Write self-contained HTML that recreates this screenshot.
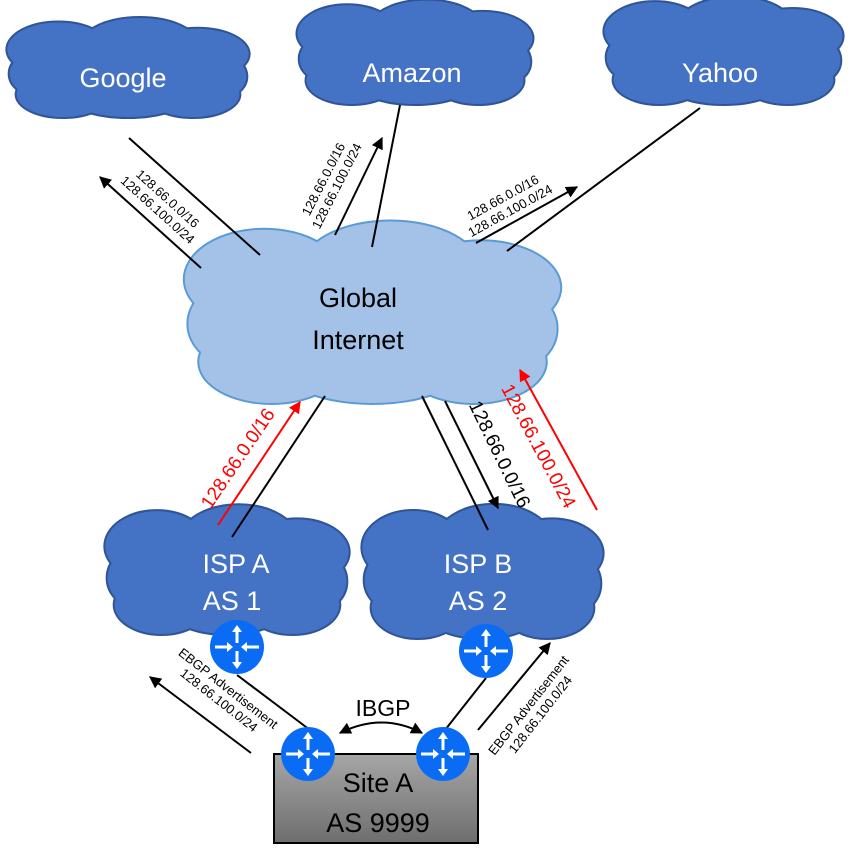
<!DOCTYPE html>
<html><head><meta charset="utf-8"><style>
html,body{margin:0;padding:0;background:#fff}
svg{display:block}
text{font-family:"Liberation Sans",sans-serif}
</style></head><body>
<svg id="s" width="867" height="852" viewBox="0 0 867 852" xmlns="http://www.w3.org/2000/svg">
<defs>
<marker id="ak" viewBox="0 0 10 10" refX="9" refY="5" markerWidth="6" markerHeight="6" orient="auto-start-reverse"><path d="M0,0L10,5L0,10z" fill="#000"/></marker>
<marker id="ar" viewBox="0 0 10 10" refX="9" refY="5" markerWidth="6" markerHeight="6" orient="auto"><path d="M0,0L10,5L0,10z" fill="#f00"/></marker>
<linearGradient id="gb" x1="0" y1="0" x2="0" y2="1"><stop offset="0" stop-color="#a6a6a6"/><stop offset="1" stop-color="#6e6e6e"/></linearGradient>
<g id="rt"><circle r="27" fill="#0a6cf5"/>
<g stroke="#fff" stroke-width="3" fill="#fff">
<line x1="0" y1="-4" x2="0" y2="-17"/><path d="M-5,-15L0,-22L5,-15z" stroke="none"/>
<line x1="0" y1="4" x2="0" y2="17"/><path d="M-5,15L0,22L5,15z" stroke="none"/>
<line x1="-22" y1="0" x2="-10" y2="0"/><path d="M-10,-5L-4,0L-10,5z" stroke="none"/>
<line x1="22" y1="0" x2="10" y2="0"/><path d="M10,-5L4,0L10,5z" stroke="none"/>
</g></g>
</defs>
<g id="clouds"></g>
<g stroke="#000" stroke-width="2" fill="none">
<line x1="129" y1="138" x2="260" y2="255"/>
<line x1="201" y1="268" x2="100" y2="177" marker-end="url(#ak)"/>
<line x1="400" y1="105" x2="372" y2="247"/>
<line x1="335" y1="235" x2="382" y2="138" marker-end="url(#ak)"/>
<line x1="700" y1="108" x2="507" y2="251"/>
<line x1="476" y1="243" x2="577" y2="187" marker-end="url(#ak)"/>
<line x1="232" y1="537" x2="325" y2="396"/>
<line x1="422" y1="396" x2="488" y2="530"/>
<line x1="445" y1="401" x2="498" y2="508" marker-end="url(#ak)"/>
<line x1="237" y1="675" x2="310" y2="730"/>
<line x1="251" y1="753" x2="150" y2="677" marker-end="url(#ak)"/>
<line x1="486" y1="678" x2="445" y2="730"/>
<line x1="478" y1="730" x2="550" y2="643" marker-end="url(#ak)"/>
<path d="M340,733 Q382,712 422,733" marker-start="url(#ak)" marker-end="url(#ak)"/>
</g>
<g stroke="#f00" stroke-width="2">
<line x1="218" y1="525" x2="300" y2="402" marker-end="url(#ar)"/>
<line x1="597" y1="510" x2="520" y2="370" marker-end="url(#ar)"/>
</g>
<rect x="274" y="754" width="204" height="89" fill="url(#gb)" stroke="#000" stroke-width="2"/>
<use href="#rt" x="237" y="647"/><use href="#rt" x="486" y="651"/>
<use href="#rt" x="308" y="754"/><use href="#rt" x="443" y="754"/>
<g fill="#fff" font-size="27" text-anchor="middle">
<text x="123" y="87">Google</text><text x="412" y="82">Amazon</text><text x="720" y="82">Yahoo</text>
<text x="236" y="573">ISP  A</text><text x="232" y="610">AS 1</text>
<text x="478" y="573">ISP  B</text><text x="478" y="610">AS 2</text>
</g>
<g fill="#000" font-size="27" text-anchor="middle">
<text x="358" y="307">Global</text><text x="358" y="349">Internet</text>
<text x="378" y="792">Site A</text><text x="378" y="832">AS 9999</text>
<text x="383" y="716" font-size="23">IBGP</text>
</g>
<g font-size="13" fill="#000" text-anchor="middle">
<g transform="translate(162,205) rotate(42)"><text y="-4">128.66.0.0/16</text><text y="11">128.66.100.0/24</text></g>
<g transform="translate(331,183) rotate(-63)"><text y="-4">128.66.0.0/16</text><text y="11">128.66.100.0/24</text></g>
<g transform="translate(507,205) rotate(-29)"><text y="-4">128.66.0.0/16</text><text y="11">128.66.100.0/24</text></g>
<g transform="translate(223,695) rotate(38)"><text y="-4">EBGP Advertisement</text><text y="11">128.66.100.0/24</text></g>
<g transform="translate(532,708) rotate(-52)"><text y="0">EBGP Advertisement</text><text y="15">128.66.100.0/24</text></g>
</g>
<text transform="translate(243,462) rotate(-56)" font-size="19" fill="#f00" text-anchor="middle">128.66.0.0/16</text>
<text transform="translate(494,457) rotate(64)" font-size="19" fill="#000" text-anchor="middle">128.66.0.0/16</text>
<text transform="translate(533,449) rotate(62)" font-size="19" fill="#f00" text-anchor="middle">128.66.100.0/24</text>
</svg>
<script>
var NS="http://www.w3.org/2000/svg",g=document.getElementById("clouds");
function cloud(x0,y0,x1,y1,fill,stroke){
 var cx=(x0+x1)/2,cy=(y0+y1)/2,w=x1-x0,h=y1-y0;
 var pts=[[-.3,-.25,.22,.3],[.05,-.3,.25,.3],[.3,-.2,.22,.28],[.38,.05,.13,.25],[.28,.25,.2,.25],[0,.28,.25,.22],[-.28,.25,.2,.25],[-.38,.02,.13,.25],[0,0,.35,.35]];
 var grp=document.createElementNS(NS,"g");
 [0,1].forEach(function(pass){
  pts.forEach(function(p){var e=document.createElementNS(NS,"ellipse");
   e.setAttribute("cx",cx+p[0]*w);e.setAttribute("cy",cy+p[1]*h);
   e.setAttribute("rx",p[2]*w);e.setAttribute("ry",p[3]*h);
   e.setAttribute("fill",fill);
   if(pass==0){e.setAttribute("stroke",stroke);e.setAttribute("stroke-width","4");}
   grp.appendChild(e);});
 });
 g.appendChild(grp);
}
var D="#4472c4",S="#2f5597";
cloud(12,27,244,117,D,S);cloud(302,10,528,104,D,S);cloud(609,7,838,104,D,S);
cloud(192,238,553,403,"#a4c2e8","#5b9bd5");
cloud(110,517,344,634,D,S);cloud(367,517,598,638,D,S);
</script>
</body></html>
